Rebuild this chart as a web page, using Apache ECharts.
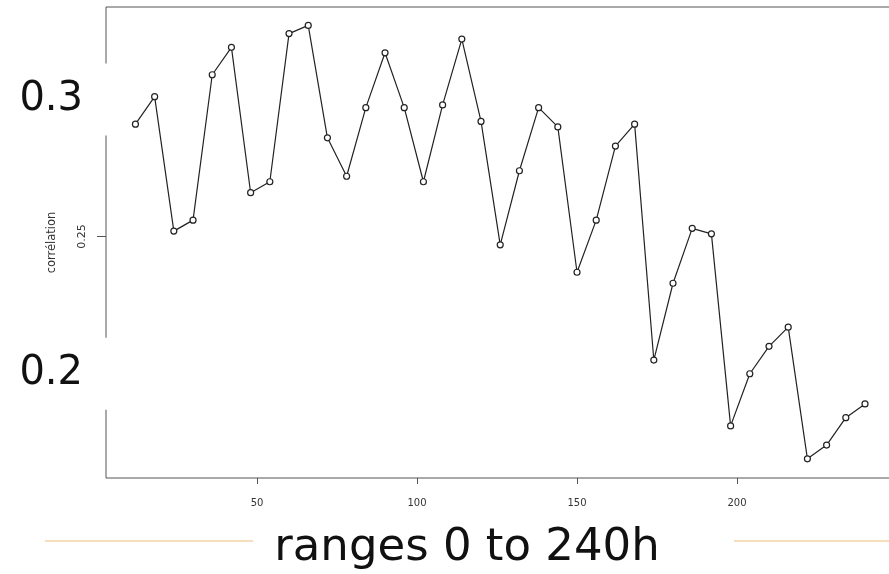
<!DOCTYPE html>
<html>
<head>
<meta charset="utf-8">
<script src="https://cdn.jsdelivr.net/npm/echarts@6/dist/echarts.min.js"></script>
<style>
  html, body { margin: 0; padding: 0; background: #fff; }
  #chart { width: 889px; height: 574px; }
</style>
</head>
<body>
<div id="chart"></div>
<script>
  // lead time in hours
  const hours = [12, 18, 24, 30, 36, 42, 48, 54, 60, 66, 72, 78, 84, 90, 96, 102, 108, 114, 120, 126,
    132, 138, 144, 150, 156, 162, 168, 174, 180, 186, 192, 198, 204, 210, 216, 222, 228, 234, 240]
  // correlation
  const correlation = [0.291, 0.301, 0.252, 0.256, 0.309, 0.319, 0.266, 0.270, 0.324, 0.327,
    0.286, 0.272, 0.297, 0.317, 0.297, 0.270, 0.298, 0.322, 0.292, 0.247,
    0.274, 0.297, 0.290, 0.237, 0.256, 0.283, 0.291, 0.205, 0.233, 0.253,
    0.251, 0.181, 0.200, 0.210, 0.217, 0.169, 0.174, 0.184, 0.189]
  const xTicks = [50, 100, 150, 200]
  const yTicks = [0.2, 0.25, 0.3]
  const yBigLabels = [0.2, 0.3]
  const ySmallLabels = [0.25]
  const xTitle = 'ranges 0 to 240h'
  const yTitle = 'corrélation'

  const chart = echarts.init(document.getElementById('chart'))

  const option = {
    animation: false,
    grid: {
      left: 106,
      right: -5,
      top: 7,
      bottom: 96,
      show: true,
      borderColor: '#555',
      borderWidth: 1,
      containLabel: false,
      outerBoundsMode: 'none'
    },
    xAxis: {
      type: 'value',
      min: 2.8,
      max: 249.06,
      axisLine: { show: false },
      splitLine: { show: false },
      axisTick: {
        show: true,
        customValues: xTicks,
        length: 6,
        lineStyle: { color: '#555' }
      },
      axisLabel: {
        customValues: xTicks,
        fontSize: 10,
        fontFamily: 'DejaVu Sans',
        color: '#333',
        margin: 20
      }
    },
    yAxis: [
      {
        type: 'value',
        min: 0.1620,
        max: 0.3337,
        name: yTitle,
        nameLocation: 'middle',
        nameRotate: 90,
        nameGap: 48,
        nameTextStyle: { fontSize: 11.5, fontFamily: 'DejaVu Sans', color: '#333' },
        axisLine: { show: false },
        splitLine: { show: false },
        axisTick: {
          show: true,
          customValues: yTicks,
          length: 9,
          lineStyle: { color: '#555' }
        },
        axisLabel: {
          customValues: ySmallLabels,
          rotate: 90,
          fontSize: 11,
          fontFamily: 'DejaVu Sans',
          color: '#333',
          margin: 18,
          formatter: v => v.toFixed(2)
        }
      },
      {
        type: 'value',
        min: 0.1620,
        max: 0.3337,
        position: 'left',
        z: 10,
        axisLine: { show: false },
        axisTick: { show: false },
        splitLine: { show: false },
        axisLabel: {
          customValues: yBigLabels,
          fontSize: 40,
          lineHeight: 40,
          fontFamily: 'DejaVu Sans',
          color: '#111',
          backgroundColor: '#fff',
          padding: [16, 25, 16, 14],
          margin: -2,
          formatter: v => v.toFixed(1)
        }
      }
    ],
    graphic: [
      { type: 'line', shape: { x1: 45, y1: 541, x2: 253, y2: 541 }, style: { stroke: '#f3d3a6', lineWidth: 1.5 } },
      { type: 'line', shape: { x1: 734, y1: 541, x2: 889, y2: 541 }, style: { stroke: '#f3d3a6', lineWidth: 1.5 } },
      {
        type: 'text',
        x: 467,
        y: 548,
        style: {
          text: xTitle,
          fontSize: 45,
          fontFamily: 'DejaVu Sans',
          fill: '#111',
          textAlign: 'center',
          textVerticalAlign: 'middle'
        }
      }
    ],
    series: [
      {
        type: 'line',
        data: hours.map((h, i) => [h, correlation[i]]),
        symbol: 'circle',
        symbolSize: 6,
        showAllSymbol: true,
        lineStyle: { color: '#222', width: 1.2 },
        itemStyle: { color: '#fff', borderColor: '#222', borderWidth: 1.2 }
      }
    ]
  }

  chart.setOption(option)
</script>
</body>
</html>
